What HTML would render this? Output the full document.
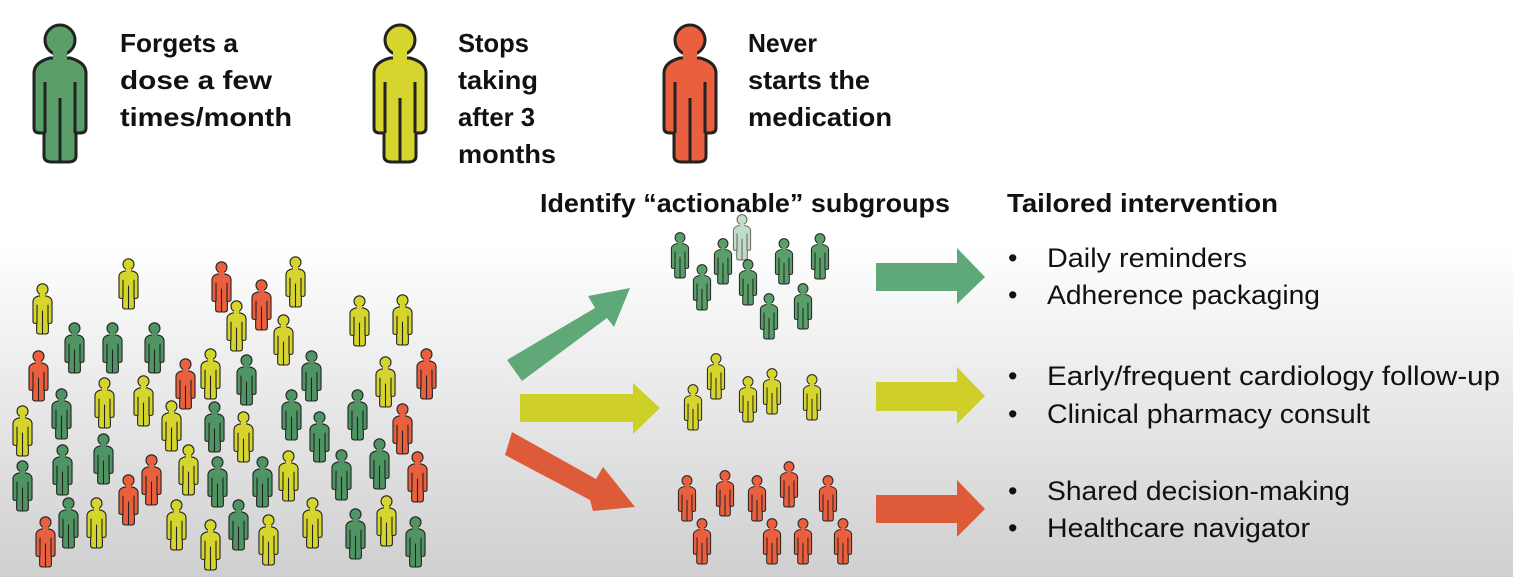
<!DOCTYPE html>
<html><head><meta charset="utf-8"><style>
html,body{margin:0;padding:0;width:1513px;height:577px;overflow:hidden}
svg{display:block}
text{font-family:"Liberation Sans",sans-serif;fill:#111}
.b{font-weight:bold;font-size:26px}
.r text{font-size:27px}
</style></head><body>
<svg width="1513" height="577" viewBox="0 0 1513 577" xmlns="http://www.w3.org/2000/svg">
<defs>
<linearGradient id="bg" x1="0" y1="0" x2="0" y2="1">
<stop offset="0" stop-color="#ffffff"/><stop offset="0.42" stop-color="#ffffff"/><stop offset="1" stop-color="#cfcfcf"/>
</linearGradient>
<symbol id="p" viewBox="0 0 60 142" overflow="visible">
<path d="M20,38 Q5,42 4,52 L4,108 Q4,113 10,113 L14,113 L14,136 Q14,142 22,142 L38,142 Q46,142 46,136 L46,113 L50,113 Q56,113 56,108 L56,52 Q55,42 40,38 Z" stroke="#222" stroke-width="3"/>
<circle cx="30" cy="20" r="15" stroke="#222" stroke-width="3"/>
<rect x="23" y="31" width="14" height="12" stroke="none"/>
<path d="M15,62 L15,113 M45,62 L45,113 M30,78 L30,142" stroke="#222" stroke-width="3" fill="none"/>
</symbol>
</defs>
<rect width="1513" height="577" fill="url(#bg)"/>

<use href="#p" x="30" y="20" width="60" height="142" fill="#5a9f6a"/>
<use href="#p" x="370" y="20" width="60" height="142" fill="#d6d52e"/>
<use href="#p" x="660" y="20" width="60" height="142" fill="#ea5f3d"/>

<g lengthAdjust="spacingAndGlyphs">
<text class="b" x="120" y="52" textLength="118" lengthAdjust="spacingAndGlyphs">Forgets a</text>
<text class="b" x="120" y="89" textLength="152" lengthAdjust="spacingAndGlyphs">dose a few</text>
<text class="b" x="120" y="126" textLength="172" lengthAdjust="spacingAndGlyphs">times/month</text>
<text class="b" x="458" y="52" textLength="71" lengthAdjust="spacingAndGlyphs">Stops</text>
<text class="b" x="458" y="89" textLength="80" lengthAdjust="spacingAndGlyphs">taking</text>
<text class="b" x="458" y="126" textLength="77" lengthAdjust="spacingAndGlyphs">after 3</text>
<text class="b" x="458" y="163" textLength="98" lengthAdjust="spacingAndGlyphs">months</text>
<text class="b" x="748" y="52" textLength="69" lengthAdjust="spacingAndGlyphs">Never</text>
<text class="b" x="748" y="89" textLength="122" lengthAdjust="spacingAndGlyphs">starts the</text>
<text class="b" x="748" y="126" textLength="144" lengthAdjust="spacingAndGlyphs">medication</text>
<text class="b" x="540" y="212" textLength="410" lengthAdjust="spacingAndGlyphs">Identify “actionable” subgroups</text>
<text class="b" x="1007" y="212" textLength="271" lengthAdjust="spacingAndGlyphs">Tailored intervention</text>
</g>

<g class="r">
<text x="1008" y="267">•</text><text x="1047" y="267" textLength="200" lengthAdjust="spacingAndGlyphs">Daily reminders</text>
<text x="1008" y="304">•</text><text x="1047" y="304" textLength="273" lengthAdjust="spacingAndGlyphs">Adherence packaging</text>
<text x="1008" y="385">•</text><text x="1047" y="385" textLength="453" lengthAdjust="spacingAndGlyphs">Early/frequent cardiology follow-up</text>
<text x="1008" y="423">•</text><text x="1047" y="423" textLength="323" lengthAdjust="spacingAndGlyphs">Clinical pharmacy consult</text>
<text x="1008" y="500">•</text><text x="1047" y="500" textLength="303" lengthAdjust="spacingAndGlyphs">Shared decision-making</text>
<text x="1008" y="537">•</text><text x="1047" y="537" textLength="263" lengthAdjust="spacingAndGlyphs">Healthcare navigator</text>
</g>

<g>
<use href="#p" x="31" y="282" width="23" height="52" fill="#d6d52e"/>
<use href="#p" x="117" y="257" width="23" height="52" fill="#d6d52e"/>
<use href="#p" x="210" y="260" width="23" height="52" fill="#ea5f3d"/>
<use href="#p" x="250" y="278" width="23" height="52" fill="#ea5f3d"/>
<use href="#p" x="284" y="255" width="23" height="52" fill="#d6d52e"/>
<use href="#p" x="225" y="299" width="23" height="52" fill="#d6d52e"/>
<use href="#p" x="272" y="313" width="23" height="52" fill="#d6d52e"/>
<use href="#p" x="348" y="294" width="23" height="52" fill="#d6d52e"/>
<use href="#p" x="391" y="293" width="23" height="52" fill="#d6d52e"/>
<use href="#p" x="63" y="321" width="23" height="52" fill="#4f9563"/>
<use href="#p" x="101" y="321" width="23" height="52" fill="#4f9563"/>
<use href="#p" x="143" y="321" width="23" height="52" fill="#4f9563"/>
<use href="#p" x="27" y="349" width="23" height="52" fill="#ea5f3d"/>
<use href="#p" x="174" y="357" width="23" height="52" fill="#ea5f3d"/>
<use href="#p" x="199" y="347" width="23" height="52" fill="#d6d52e"/>
<use href="#p" x="235" y="353" width="23" height="52" fill="#4f9563"/>
<use href="#p" x="300" y="349" width="23" height="52" fill="#4f9563"/>
<use href="#p" x="374" y="355" width="23" height="52" fill="#d6d52e"/>
<use href="#p" x="415" y="347" width="23" height="52" fill="#ea5f3d"/>
<use href="#p" x="50" y="387" width="23" height="52" fill="#4f9563"/>
<use href="#p" x="93" y="376" width="23" height="52" fill="#d6d52e"/>
<use href="#p" x="132" y="374" width="23" height="52" fill="#d6d52e"/>
<use href="#p" x="160" y="399" width="23" height="52" fill="#d6d52e"/>
<use href="#p" x="203" y="400" width="23" height="52" fill="#4f9563"/>
<use href="#p" x="232" y="410" width="23" height="52" fill="#d6d52e"/>
<use href="#p" x="280" y="388" width="23" height="52" fill="#4f9563"/>
<use href="#p" x="308" y="410" width="23" height="52" fill="#4f9563"/>
<use href="#p" x="346" y="388" width="23" height="52" fill="#4f9563"/>
<use href="#p" x="391" y="402" width="23" height="52" fill="#ea5f3d"/>
<use href="#p" x="11" y="404" width="23" height="52" fill="#d6d52e"/>
<use href="#p" x="11" y="459" width="23" height="52" fill="#4f9563"/>
<use href="#p" x="51" y="443" width="23" height="52" fill="#4f9563"/>
<use href="#p" x="92" y="432" width="23" height="52" fill="#4f9563"/>
<use href="#p" x="140" y="453" width="23" height="52" fill="#ea5f3d"/>
<use href="#p" x="117" y="473" width="23" height="52" fill="#ea5f3d"/>
<use href="#p" x="177" y="443" width="23" height="52" fill="#d6d52e"/>
<use href="#p" x="206" y="455" width="23" height="52" fill="#4f9563"/>
<use href="#p" x="251" y="455" width="23" height="52" fill="#4f9563"/>
<use href="#p" x="277" y="449" width="23" height="52" fill="#d6d52e"/>
<use href="#p" x="330" y="448" width="23" height="52" fill="#4f9563"/>
<use href="#p" x="368" y="437" width="23" height="52" fill="#4f9563"/>
<use href="#p" x="406" y="450" width="23" height="52" fill="#ea5f3d"/>
<use href="#p" x="34" y="515" width="23" height="52" fill="#ea5f3d"/>
<use href="#p" x="57" y="496" width="23" height="52" fill="#4f9563"/>
<use href="#p" x="85" y="496" width="23" height="52" fill="#d6d52e"/>
<use href="#p" x="165" y="498" width="23" height="52" fill="#d6d52e"/>
<use href="#p" x="199" y="518" width="23" height="52" fill="#d6d52e"/>
<use href="#p" x="227" y="498" width="23" height="52" fill="#4f9563"/>
<use href="#p" x="257" y="513" width="23" height="52" fill="#d6d52e"/>
<use href="#p" x="301" y="496" width="23" height="52" fill="#d6d52e"/>
<use href="#p" x="344" y="507" width="23" height="52" fill="#4f9563"/>
<use href="#p" x="375" y="494" width="23" height="52" fill="#d6d52e"/>
<use href="#p" x="404" y="515" width="23" height="52" fill="#4f9563"/>
</g>

<use href="#p" x="732" y="213" width="20" height="47" fill="#a8cfae" opacity="0.7"/>
<use href="#p" x="670" y="231" width="20" height="47" fill="#5a9f6a"/>
<use href="#p" x="713" y="237" width="20" height="47" fill="#5a9f6a"/>
<use href="#p" x="692" y="263" width="20" height="47" fill="#5a9f6a"/>
<use href="#p" x="738" y="258" width="20" height="47" fill="#5a9f6a"/>
<use href="#p" x="774" y="237" width="20" height="47" fill="#5a9f6a"/>
<use href="#p" x="810" y="232" width="20" height="47" fill="#5a9f6a"/>
<use href="#p" x="793" y="282" width="20" height="47" fill="#5a9f6a"/>
<use href="#p" x="759" y="292" width="20" height="47" fill="#5a9f6a"/>

<use href="#p" x="683" y="383" width="20" height="47" fill="#d6d52e"/>
<use href="#p" x="706" y="352" width="20" height="47" fill="#d6d52e"/>
<use href="#p" x="738" y="375" width="20" height="47" fill="#d6d52e"/>
<use href="#p" x="762" y="367" width="20" height="47" fill="#d6d52e"/>
<use href="#p" x="802" y="373" width="20" height="47" fill="#d6d52e"/>

<use href="#p" x="677" y="474" width="20" height="47" fill="#ea5f3d"/>
<use href="#p" x="715" y="469" width="20" height="47" fill="#ea5f3d"/>
<use href="#p" x="747" y="474" width="20" height="47" fill="#ea5f3d"/>
<use href="#p" x="779" y="460" width="20" height="47" fill="#ea5f3d"/>
<use href="#p" x="818" y="474" width="20" height="47" fill="#ea5f3d"/>
<use href="#p" x="692" y="517" width="20" height="47" fill="#ea5f3d"/>
<use href="#p" x="762" y="517" width="20" height="47" fill="#ea5f3d"/>
<use href="#p" x="793" y="517" width="20" height="47" fill="#ea5f3d"/>
<use href="#p" x="833" y="517" width="20" height="47" fill="#ea5f3d"/>

<polygon points="507,360 595,308 588,296 630,288 614,327 607,318 522,381" fill="#5fa877"/>
<polygon points="520,394 633,394 633,383 660,408 633,434 633,422 520,422" fill="#cfcf2a"/>
<polygon points="512,432 596,479 603,467 635,507 593,511 590,500 505,455" fill="#de5b3a"/>

<polygon points="876,263 957,263 957,248 985,277 957,304 957,291 876,291" fill="#5fa877"/>
<polygon points="876,382 957,382 957,367 985,396 957,424 957,411 876,411" fill="#cfcf2a"/>
<polygon points="876,495 957,495 957,480 985,509 957,537 957,523 876,523" fill="#de5b3a"/>
</svg>
</body></html>
